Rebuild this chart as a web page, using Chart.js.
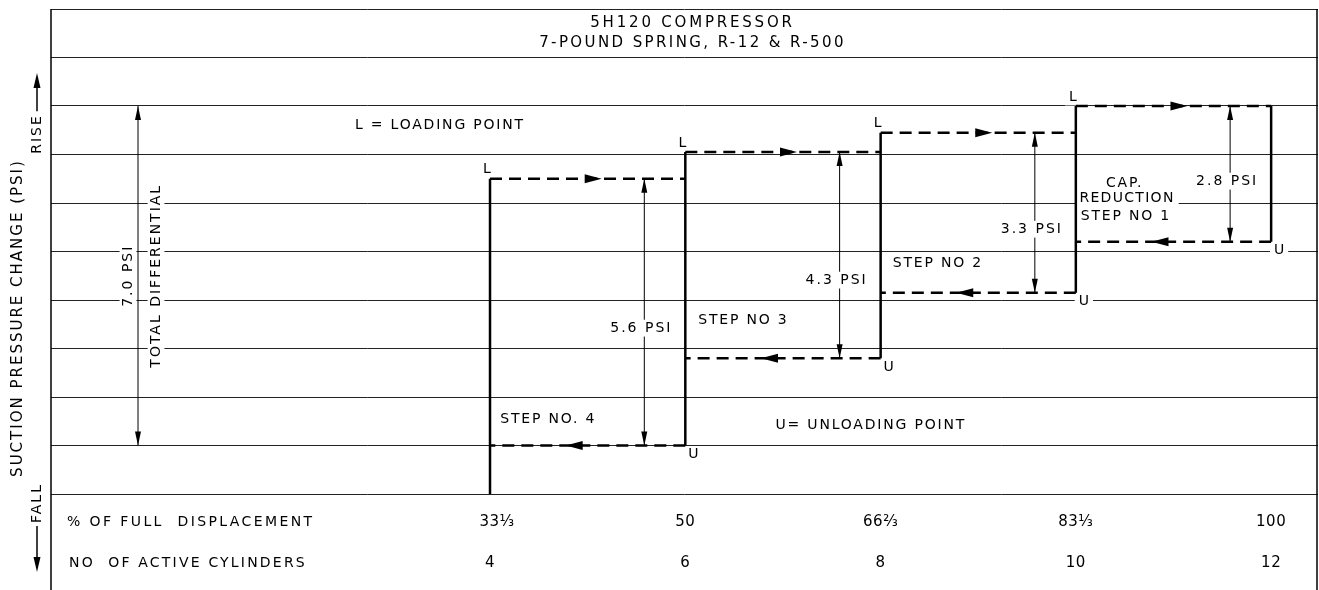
<!DOCTYPE html>
<html>
<head>
<meta charset="utf-8">
<script src="https://cdn.jsdelivr.net/npm/chart.js@4.4.0/dist/chart.umd.min.js"></script>
<style>
  html, body { margin: 0; padding: 0; background: #fff; }
  #wrap { width: 1319px; height: 590px; }
</style>
</head>
<body>
<div id="wrap"><canvas id="chart"></canvas></div>
<script>
// % of full displacement at each capacity step and the cylinders working there
const displacement = [33.33, 50, 66.67, 83.33, 100];
const displacementLabels = ['33⅓', '50', '66⅔', '83⅓', '100'];
const cylinders = ['4', '6', '8', '10', '12'];

// suction pressure change (psi) where each step loads / unloads
// order: step no. 4, 3, 2, 1
const loadingPoint = [6.5, 7.05, 7.45, 8.0];
const unloadingPoint = [1.0, 2.8, 4.15, 5.2];
const stepDifferential = ['5.6 PSI', '4.3 PSI', '3.3 PSI', '2.8 PSI'];
const totalDifferential = [1.0, 8.0];

// where the notes sit (chart units)
const diffLabelY = [3.42, 4.41, 5.46, 6.45];
const notes = [
  { t: 'L = LOADING POINT', x: 21.8, y: 7.6, align: 'left' },
  { t: 'U= UNLOADING POINT', x: 57.7, y: 1.42, align: 'left' },
  { t: 'STEP NO. 4', x: 34.2, y: 1.53, align: 'left' },
  { t: 'STEP NO 3', x: 51.1, y: 3.57, align: 'left' },
  { t: 'STEP NO 2', x: 67.7, y: 4.76, align: 'left' },
  { t: 'CAP.', x: 87.5, y: 6.41, align: 'center' },
  { t: 'REDUCTION', x: 87.7, y: 6.1, align: 'center' },
  { t: 'STEP NO 1', x: 87.6, y: 5.73, align: 'center' }
];

// solid risers, dashed loading / unloading runs
const risers = [];
displacement.forEach((x, i) => {
  const bottom = i === 0 ? 0 : unloadingPoint[i - 1];
  const top = loadingPoint[Math.min(i, loadingPoint.length - 1)];
  risers.push({ x: x, y: bottom }, { x: x, y: top }, { x: x, y: null });
});
const loadRuns = [];
const unloadRuns = [];
loadingPoint.forEach((y, i) => {
  loadRuns.push({ x: displacement[i], y: y }, { x: displacement[i + 1], y: y }, { x: displacement[i + 1], y: null });
});
unloadingPoint.forEach((y, i) => {
  unloadRuns.push({ x: displacement[i + 1], y: y }, { x: displacement[i], y: y }, { x: displacement[i], y: null });
});

const INK = '#000';
const FONT = '"DejaVu Sans", sans-serif';

function txt(ctx, s, x, y, o) {
  o = o || {};
  const size = o.size || 14;
  ctx.save();
  ctx.font = size + 'px ' + FONT;
  ctx.letterSpacing = (o.sp == null ? 1.8 : o.sp) + 'px';
  ctx.textBaseline = 'middle';
  ctx.textAlign = o.align || 'center';
  ctx.translate(x, y);
  if (o.rot) ctx.rotate(o.rot);
  const w = ctx.measureText(s).width;
  if (o.bg) {
    const x0 = o.align === 'left' ? 0 : (o.align === 'right' ? -w : -w / 2);
    ctx.fillStyle = '#fff';
    ctx.fillRect(x0 - 4, -size * 0.6, w + 8, size * 1.2);
  }
  ctx.fillStyle = INK;
  ctx.fillText(s, 0, 0);
  ctx.restore();
  return w;
}

function head(ctx, x, y, dir, len, half) {
  // filled arrowhead, tip at (x,y)
  ctx.beginPath();
  ctx.moveTo(x, y);
  if (dir === 'up') { ctx.lineTo(x - half, y + len); ctx.lineTo(x + half, y + len); }
  if (dir === 'down') { ctx.lineTo(x - half, y - len); ctx.lineTo(x + half, y - len); }
  if (dir === 'left') { ctx.lineTo(x + len, y - half); ctx.lineTo(x + len, y + half); }
  if (dir === 'right') { ctx.lineTo(x - len, y - half); ctx.lineTo(x - len, y + half); }
  ctx.closePath();
  ctx.fill();
}

const drafting = {
  id: 'drafting',
  beforeDatasetsDraw(chart) {
    const ctx = chart.ctx;
    const a = chart.chartArea;
    const xs = chart.scales.x;
    const ys = chart.scales.y;
    ctx.save();
    ctx.strokeStyle = INK;
    ctx.fillStyle = INK;

    // frame
    ctx.lineWidth = 1.5;
    ctx.beginPath();
    ctx.moveTo(a.left, a.top); ctx.lineTo(a.left, chart.height);
    ctx.moveTo(a.right - 1, a.top); ctx.lineTo(a.right - 1, chart.height);
    ctx.stroke();

    // title
    const tx = (a.left + a.right) / 2 + 8;
    txt(ctx, '5H120 COMPRESSOR', tx, ys.getPixelForValue(9.71), { size: 15, sp: 2.8 });
    txt(ctx, '7-POUND SPRING, R-12 & R-500', tx, ys.getPixelForValue(9.3), { size: 15, sp: 2.4 });

    // total differential
    const tdx = a.left + 87;
    const t0 = ys.getPixelForValue(totalDifferential[0]);
    const t1 = ys.getPixelForValue(totalDifferential[1]);
    txt(ctx, '7.0 PSI', tdx - 10, ys.getPixelForValue(4.5), { rot: -Math.PI / 2, bg: true, sp: 2 });
    txt(ctx, 'TOTAL DIFFERENTIAL', tdx + 18, ys.getPixelForValue(4.5), { rot: -Math.PI / 2, bg: true, sp: 2 });
    ctx.lineWidth = 1;
    ctx.beginPath(); ctx.moveTo(tdx, t0); ctx.lineTo(tdx, t1); ctx.stroke();
    head(ctx, tdx, t1, 'up', 14, 3);
    head(ctx, tdx, t0, 'down', 14, 3);

    // step differential dimensions
    loadingPoint.forEach((L, i) => {
      const x0 = xs.getPixelForValue(displacement[i]);
      const x1 = xs.getPixelForValue(displacement[i + 1]);
      const dx = x0 + 0.79 * (x1 - x0);
      const yl = ys.getPixelForValue(L);
      const yu = ys.getPixelForValue(unloadingPoint[i]);
      ctx.lineWidth = 1;
      ctx.beginPath(); ctx.moveTo(dx, yl); ctx.lineTo(dx, yu); ctx.stroke();
      head(ctx, dx, yl, 'up', 14, 3);
      head(ctx, dx, yu, 'down', 14, 3);
      txt(ctx, stepDifferential[i], dx - 3, ys.getPixelForValue(diffLabelY[i]), { bg: true, sp: 2 });
    });

    // notes
    notes.forEach(n => {
      const red = n.t === 'REDUCTION';
      txt(ctx, n.t, xs.getPixelForValue(n.x), ys.getPixelForValue(n.y), { align: n.align, bg: red, sp: red ? 1.3 : 1.8 });
    });

    // L / U markers
    loadingPoint.forEach((L, i) => {
      txt(ctx, 'L', xs.getPixelForValue(displacement[i]) - 3, ys.getPixelForValue(L) - 9, { sp: 0, bg: true });
      txt(ctx, 'U', xs.getPixelForValue(displacement[i + 1]) + 8, ys.getPixelForValue(unloadingPoint[i]) + 9, { sp: 0, bg: true });
    });

    // bottom rows
    const r1 = a.bottom + 28;
    const r2 = a.bottom + 69;
    txt(ctx, '% OF FULL  DISPLACEMENT', a.left + 16, r1, { align: 'left', sp: 2.4 });
    txt(ctx, 'NO  OF ACTIVE CYLINDERS', a.left + 18, r2, { align: 'left', sp: 2.2 });
    displacement.forEach((v, i) => {
      const px = xs.getPixelForValue(v);
      txt(ctx, displacementLabels[i], px + (i === 0 ? 7 : 0), r1, { size: 15, sp: 0.5 });
      txt(ctx, cylinders[i], px, r2, { size: 15, sp: 0.5 });
    });

    // y axis caption with rise / fall arrows
    txt(ctx, 'SUCTION PRESSURE CHANGE (PSI)', 18, 318, { size: 15, rot: -Math.PI / 2, sp: 2 });
    const rw = txt(ctx, 'RISE', 37, 134, { rot: -Math.PI / 2, sp: 2 });
    ctx.lineWidth = 1.5;
    ctx.beginPath(); ctx.moveTo(37, 134 - rw / 2 - 3); ctx.lineTo(37, 80); ctx.stroke();
    head(ctx, 37, 73, 'up', 15, 3.5);
    const fw = txt(ctx, 'FALL', 37, 503, { rot: -Math.PI / 2, sp: 2 });
    ctx.beginPath(); ctx.moveTo(37, 503 + fw / 2 + 3); ctx.lineTo(37, 565); ctx.stroke();
    head(ctx, 37, 572, 'down', 15, 3.5);
    ctx.restore();
  },
  afterDatasetsDraw(chart) {
    const ctx = chart.ctx;
    const xs = chart.scales.x;
    const ys = chart.scales.y;
    ctx.save();
    ctx.fillStyle = INK;
    loadingPoint.forEach((L, i) => {
      const mid = (xs.getPixelForValue(displacement[i]) + xs.getPixelForValue(displacement[i + 1])) / 2;
      head(ctx, mid + 14, ys.getPixelForValue(L), 'right', 17, 4.5);
      head(ctx, mid - 22, ys.getPixelForValue(unloadingPoint[i]), 'left', 17, 4.5);
    });
    ctx.restore();
  }
};

new Chart(document.getElementById('chart'), {
  type: 'scatter',
  data: {
    datasets: [
      { label: 'risers', data: risers, showLine: true, borderColor: INK, borderWidth: 2.5, pointRadius: 0 },
      { label: 'loading', data: loadRuns, showLine: true, borderColor: INK, borderWidth: 2.5, borderDash: [12, 7], pointRadius: 0 },
      { label: 'unloading', data: unloadRuns, showLine: true, borderColor: INK, borderWidth: 2.5, borderDash: [12, 7], pointRadius: 0 }
    ]
  },
  options: {
    responsive: true,
    maintainAspectRatio: false,
    animation: false,
    events: [],
    layout: { padding: { left: 51, top: 9, right: 1, bottom: 96 } },
    plugins: { legend: { display: false }, tooltip: { enabled: false } },
    scales: {
      x: { type: 'linear', min: -4.14, max: 104.0, display: false },
      y: {
        min: 0, max: 10,
        ticks: { display: false, stepSize: 1 },
        grid: { color: '#222', lineWidth: 1, drawTicks: false },
        border: { display: false }
      }
    }
  },
  plugins: [drafting]
});
</script>
</body>
</html>
